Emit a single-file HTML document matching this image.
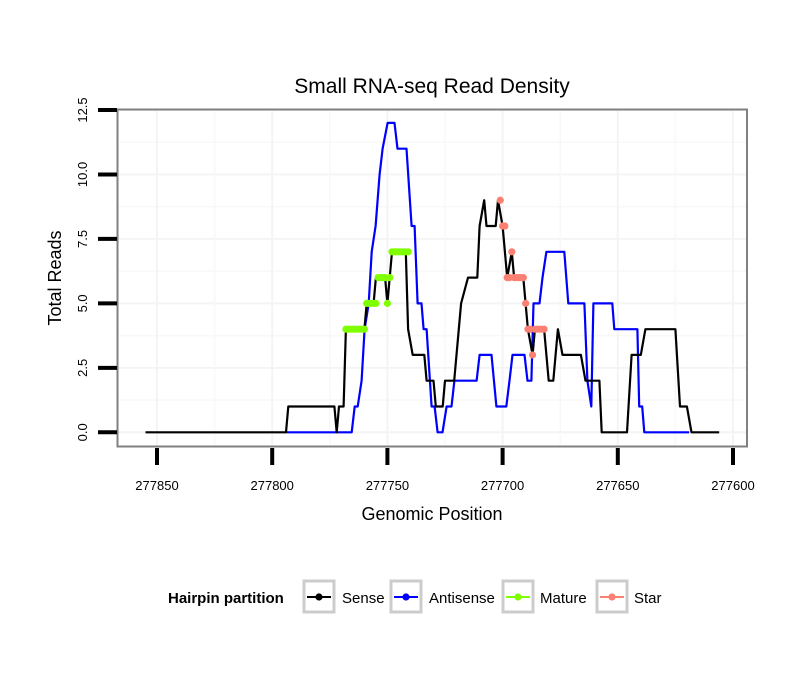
<!DOCTYPE html>
<html><head><meta charset="utf-8"><style>
body{margin:0;background:#fff;}
svg{display:block;font-family:"Liberation Sans",sans-serif;}
</style></head><body>
<svg id="chart" width="810" height="690"></svg>
<script>
// ---- data ----
const sensePos = [277855,277794,277793,277773,277772,277771,277769,277768,277760,277759,277756,277755,277751,277750,277748,277742,277741,277739,277734,277733,277730,277729,277726,277725,277721,277720,277718,277715,277711,277710,277708,277707,277703,277702,277700,277698,277696,277695,277691,277689,277687,277686,277682,277680,277678,277677,277676,277674,277666,277664,277658,277657,277646,277644,277640,277638,277625,277623,277620,277618,277606];
const senseVal = [0,0,1,1,0,1,1,4,4,5,5,6,6,5,7,7,4,3,3,2,2,1,1,2,2,3,5,6,6,8,9,8,8,9,8,6,7,6,6,4,3,4,4,2,2,3,4,3,3,2,2,0,0,3,3,4,4,1,1,0,0];
const antiPos = [277793.7,277765.5,277764.2,277762.9,277761.2,277759.9,277758.1,277756.8,277755.1,277753.4,277752.1,277749.9,277746.9,277745.6,277741.7,277739.5,277738.2,277736.9,277735.2,277734.3,277733.0,277730.8,277729.5,277728.2,277726.1,277724.3,277722.2,277720.9,277711.3,277710.0,277704.8,277702.7,277698.4,277697.0,277695.7,277690.5,277689.2,277687.5,277686.6,277684.0,277682.7,277681.0,277673.2,277671.5,277664.5,277663.2,277661.5,277660.6,277652.4,277651.5,277641.5,277640.7,277639.4,277638.5,277619.0];
const antiVal = [0,0,1,1,2,4,5,7,8,10,11,12,12,11,11,8,8,5,5,4,4,1,1,0,0,1,1,2,2,3,3,1,1,2,3,3,2,2,5,5,6,7,7,5,5,2,1,5,5,4,4,1,1,0,0];
const maturePos = [277768,277767,277766,277765,277764,277763,277762,277761,277760,277759,277758,277757,277756,277755,277754,277753,277752,277751,277750,277749,277748,277747,277746,277745,277744,277743,277742,277741];
const matureVal = [4,4,4,4,4,4,4,4,4,5,5,5,5,5,6,6,6,6,5,6,7,7,7,7,7,7,7,7];
const starPos = [277701,277700,277699,277698,277697,277696,277695,277694,277693,277692,277691,277690,277689,277688,277687,277686,277685,277684,277683,277682];
const starVal = [9,8,8,6,6,7,6,6,6,6,6,5,4,4,3,4,4,4,4,4];
const xTicks = [277850,277800,277750,277700,277650,277600];
const yTicks = [0,2.5,5,7.5,10,12.5];
const yTickLabels = ["0.0","2.5","5.0","7.5","10.0","12.5"];

// ---- scales ----
const X0=117.5,X1=747,Y0=109.5,Y1=446.5;
function xs(g){return 157+(277850-g)*(576/250);}
function ys(v){return 432.3-v*(322.3/12.5);}
const NS="http://www.w3.org/2000/svg";
const svg=document.getElementById('chart');
function mk(tag,attrs,parent){const e=document.createElementNS(NS,tag);for(const k in attrs)e.setAttribute(k,attrs[k]);(parent||svg).appendChild(e);return e;}

// grid
const grid=mk('g',{});


for(let i=0;i<=10;i++){const v=i*1.25;mk('line',{x1:X0,x2:X1,y1:ys(v),y2:ys(v),stroke:i%2?'#f8f8f8':'#f4f4f4','stroke-width':i%2?1.5:2},grid);}
for(let g=277875;g>=277575;g-=25){const x=xs(g);if(x<X0||x>X1)continue;mk('line',{x1:x,x2:x,y1:Y0,y2:Y1,stroke:(g%50)?'#f8f8f8':'#f4f4f4','stroke-width':(g%50)?1.5:2},grid);}

function series(pos,val,color,name){
  const pts=pos.map((p,i)=>xs(p).toFixed(1)+','+ys(val[i]).toFixed(1)).join(' ');
  const l=mk('polyline',{points:pts,fill:'none',stroke:color,'stroke-width':2.2,'stroke-linejoin':'round'});
  
  
}
function dots(pos,val,color,name){
  const g=mk('g',{fill:color});
  
  
  pos.forEach((p,i)=>mk('circle',{cx:xs(p),cy:ys(val[i]),r:3.6},g));
}
series(antiPos,antiVal,'#0000ff','antisense-line');
series(sensePos,senseVal,'#000000','sense-line');
dots(maturePos,matureVal,'#80ff00','mature-points');
dots(starPos,starVal,'#fa8072','star-points');

// border
const b=mk('rect',{x:X0,y:Y0,width:X1-X0,height:Y1-Y0,fill:'none',stroke:'#808080','stroke-width':2});



// axes
yTicks.forEach((v,i)=>{
  mk('line',{x1:98,x2:117,y1:ys(v),y2:ys(v),stroke:'#000','stroke-width':4});
  const t=mk('text',{x:0,y:0,transform:`translate(87,${ys(v)}) rotate(-90)`,'text-anchor':'middle','font-size':13});
  t.textContent=yTickLabels[i];
  
  
});
xTicks.forEach(g=>{
  mk('line',{x1:xs(g),x2:xs(g),y1:448,y2:465,stroke:'#000','stroke-width':4});
  const t=mk('text',{x:xs(g),y:490,'text-anchor':'middle','font-size':13});
  t.textContent=g;
  
  
});
</script>
<svg style="position:absolute;left:0;top:0" width="810" height="690">
  <text x="432" y="93" text-anchor="middle" font-size="21" font-family="Liberation Sans, sans-serif">Small RNA-seq Read Density</text>
  <text x="432" y="520" text-anchor="middle" font-size="18" font-family="Liberation Sans, sans-serif">Genomic Position</text>
  <text transform="translate(61,278) rotate(-90)" text-anchor="middle" font-size="18" font-family="Liberation Sans, sans-serif">Total Reads</text>
  <g font-family="Liberation Sans, sans-serif" font-size="15">
    <text x="168" y="603" font-weight="bold">Hairpin partition</text>
    <g>
      <rect x="304" y="581" width="30" height="31" fill="#fff" stroke="#cccccc" stroke-width="3"/>
      <line x1="307" x2="331" y1="597" y2="597" stroke="#000" stroke-width="2"/><circle cx="319" cy="597" r="3.6" fill="#000"/>
      <text x="342" y="603">Sense</text></g>
    <g>
      <rect x="391" y="581" width="30" height="31" fill="#fff" stroke="#cccccc" stroke-width="3"/>
      <line x1="394" x2="418" y1="597" y2="597" stroke="#0000ff" stroke-width="2"/><circle cx="406" cy="597" r="3.6" fill="#0000ff"/>
      <text x="429" y="603">Antisense</text></g>
    <g>
      <rect x="503" y="581" width="30" height="31" fill="#fff" stroke="#cccccc" stroke-width="3"/>
      <line x1="506" x2="530" y1="597" y2="597" stroke="#80ff00" stroke-width="2"/><circle cx="518" cy="597" r="3.6" fill="#80ff00"/>
      <text x="540" y="603">Mature</text></g>
    <g>
      <rect x="597" y="581" width="30" height="31" fill="#fff" stroke="#cccccc" stroke-width="3"/>
      <line x1="600" x2="624" y1="597" y2="597" stroke="#fa8072" stroke-width="2"/><circle cx="612" cy="597" r="3.6" fill="#fa8072"/>
      <text x="634" y="603">Star</text></g>
  </g>
</svg>
</body></html>
